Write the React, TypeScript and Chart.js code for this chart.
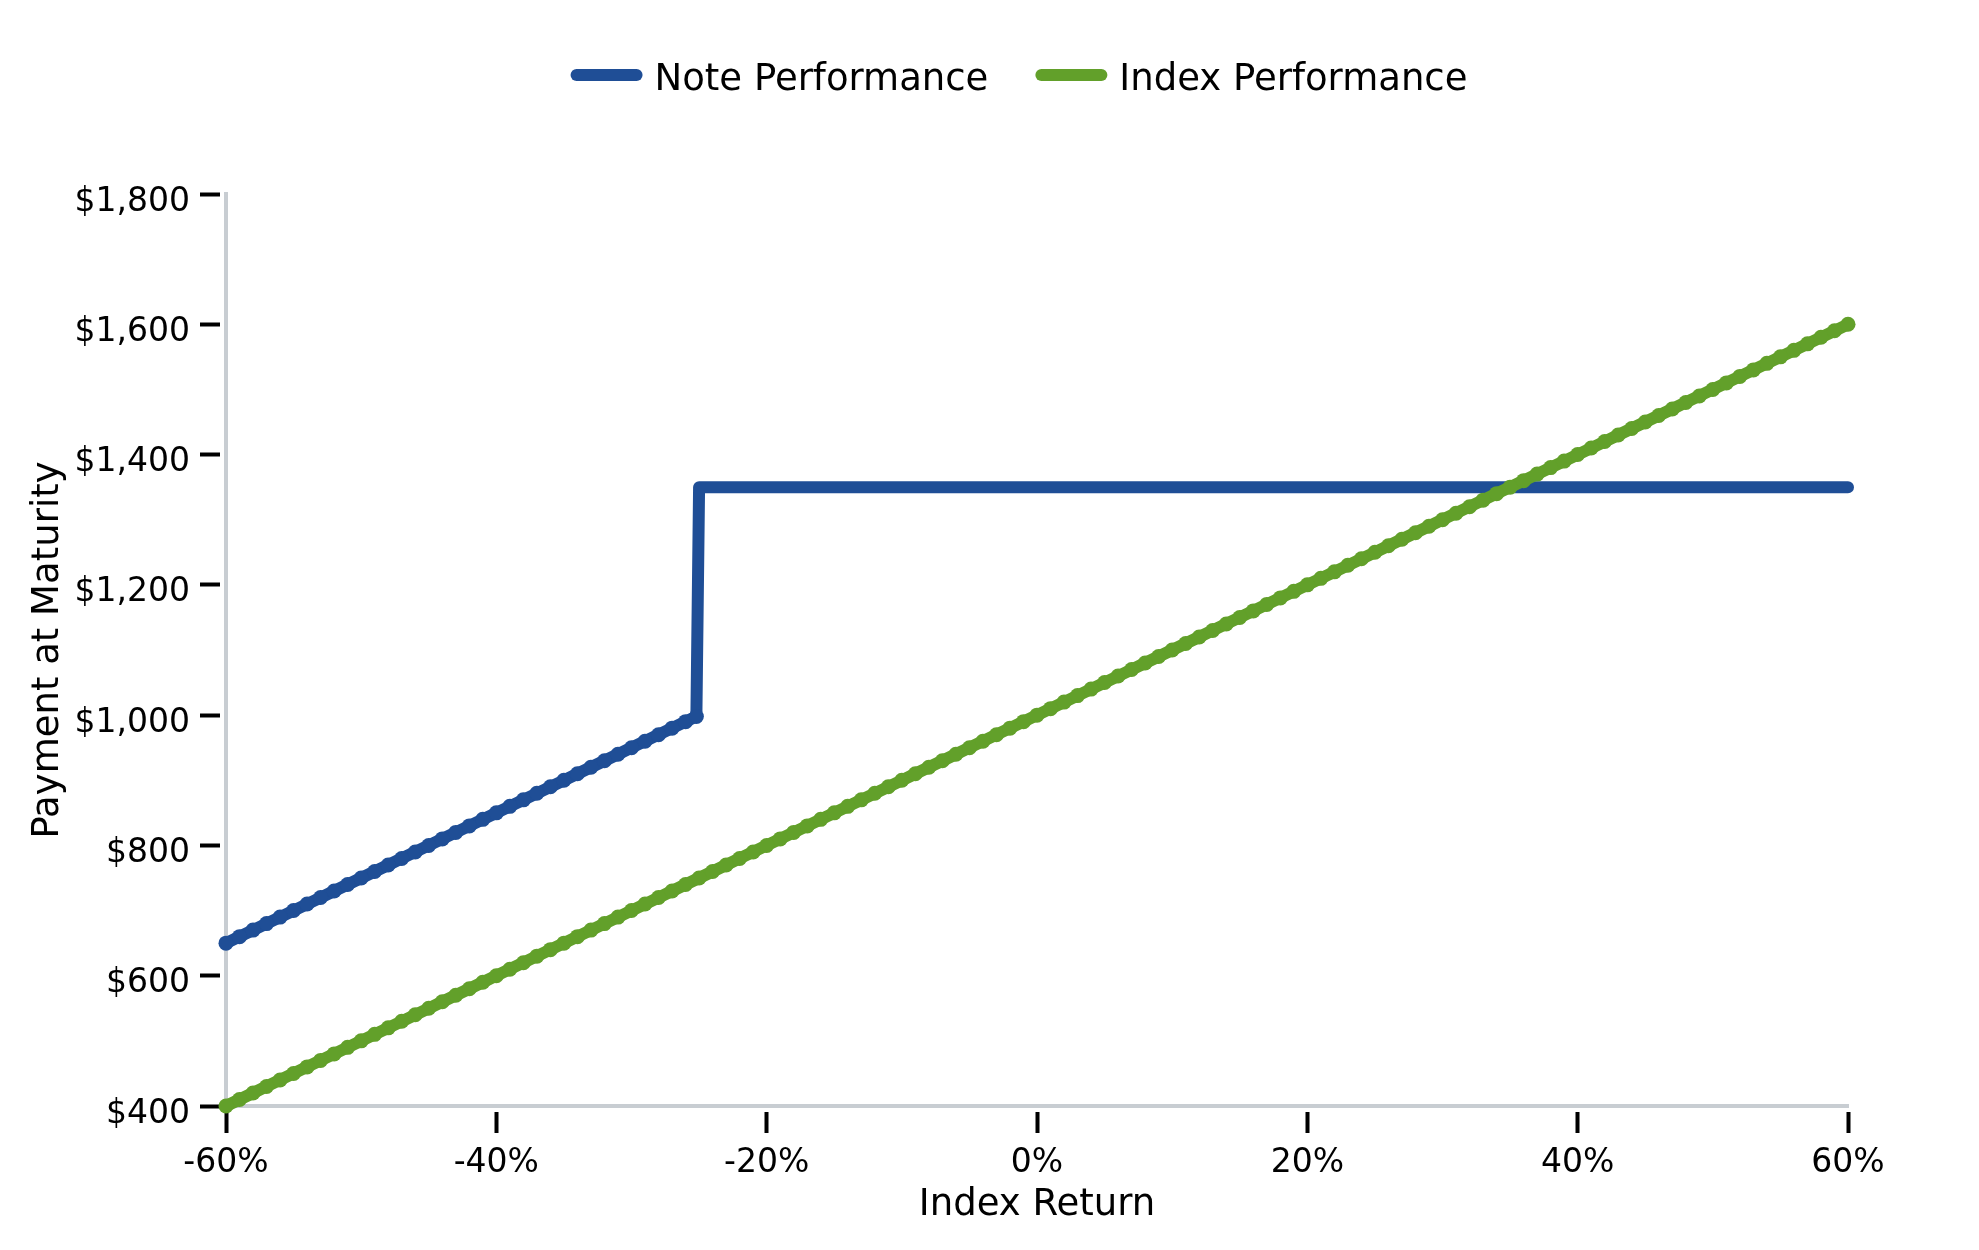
import React, { useEffect, useRef } from "react";
import { Chart, registerables } from "chart.js";

Chart.register(...registerables);

const indexReturns = [
  -60, -59, -58, -57, -56, -55, -54, -53, -52, -51, -50, -49, -48, -47, -46, -45, -44, -43, -42, -41,
  -40, -39, -38, -37, -36, -35, -34, -33, -32, -31, -30, -29, -28, -27, -26, -25, -24, -23, -22, -21,
  -20, -19, -18, -17, -16, -15, -14, -13, -12, -11, -10, -9, -8, -7, -6, -5, -4, -3, -2, -1,
  0, 1, 2, 3, 4, 5, 6, 7, 8, 9, 10, 11, 12, 13, 14, 15, 16, 17, 18, 19,
  20, 21, 22, 23, 24, 25, 26, 27, 28, 29, 30, 31, 32, 33, 34, 35, 36, 37, 38, 39,
  40, 41, 42, 43, 44, 45, 46, 47, 48, 49, 50, 51, 52, 53, 54, 55, 56, 57, 58, 59, 60,
];

const indexPerformance = [
  400, 410, 420, 430, 440, 450, 460, 470, 480, 490, 500, 510, 520, 530, 540, 550, 560, 570, 580, 590,
  600, 610, 620, 630, 640, 650, 660, 670, 680, 690, 700, 710, 720, 730, 740, 750, 760, 770, 780, 790,
  800, 810, 820, 830, 840, 850, 860, 870, 880, 890, 900, 910, 920, 930, 940, 950, 960, 970, 980, 990,
  1000, 1010, 1020, 1030, 1040, 1050, 1060, 1070, 1080, 1090, 1100, 1110, 1120, 1130, 1140, 1150, 1160, 1170, 1180, 1190,
  1200, 1210, 1220, 1230, 1240, 1250, 1260, 1270, 1280, 1290, 1300, 1310, 1320, 1330, 1340, 1350, 1360, 1370, 1380, 1390,
  1400, 1410, 1420, 1430, 1440, 1450, 1460, 1470, 1480, 1490, 1500, 1510, 1520, 1530, 1540, 1550, 1560, 1570, 1580, 1590, 1600,
];

const noteReturns = [
  -60, -59, -58, -57, -56, -55, -54, -53, -52, -51, -50, -49, -48, -47, -46, -45, -44, -43, -42, -41,
  -40, -39, -38, -37, -36, -35, -34, -33, -32, -31, -30, -29, -28, -27, -26, -25.2, -25, 60,
];

const notePerformance = [
  650, 660, 670, 680, 690, 700, 710, 720, 730, 740, 750, 760, 770, 780, 790, 800, 810, 820, 830, 840,
  850, 860, 870, 880, 890, 900, 910, 920, 930, 940, 950, 960, 970, 980, 990, 998, 1350, 1350,
];

const seriesLabels = ["Note Performance", "Index Performance"];
const seriesColors = ["#1f4e96", "#62a02a"];
const xAxisTitle = "Index Return";
const yAxisTitle = "Payment at Maturity";

const FONT = '"DejaVu Sans", sans-serif';

const lineLegend = {
  id: "lineLegend",
  afterDraw(chart: any) {
    const ctx = chart.ctx;
    ctx.save();
    ctx.font = `37px ${FONT}`;
    const items = chart.data.datasets.map((ds: any) => ({
      label: ds.label,
      color: ds.borderColor,
      w: ctx.measureText(ds.label).width,
    }));
    const boxW = 72;
    const boxH = 12;
    const gap = 12;
    const itemGap = 47;
    const total =
      items.reduce((s: number, it: any) => s + boxW + gap + it.w, 0) + itemGap * (items.length - 1);
    let x = 1019 - total / 2;
    const cy = 75;
    for (const it of items) {
      ctx.fillStyle = it.color;
      ctx.beginPath();
      ctx.roundRect(x, cy - boxH / 2, boxW, boxH, boxH / 2);
      ctx.fill();
      ctx.fillStyle = "#000";
      ctx.textAlign = "left";
      ctx.textBaseline = "alphabetic";
      ctx.fillText(it.label, x + boxW + gap, 90);
      x += boxW + gap + it.w + itemGap;
    }
    ctx.restore();
  },
};

export default function App() {
  const canvasRef = useRef<HTMLCanvasElement | null>(null);

  useEffect(() => {
    const canvas = canvasRef.current;
    if (!canvas) return;

    const noteData = noteReturns.map((x, i) => ({ x, y: notePerformance[i] }));
    const indexData = indexReturns.map((x, i) => ({ x, y: indexPerformance[i] }));

    const tickFont = { family: FONT, size: 33 };
    const titleFont = { family: FONT, size: 37 };

    const chart = new Chart(canvas, {
      type: "line",
      data: {
        datasets: [
          {
            label: seriesLabels[0],
            data: noteData,
            borderColor: seriesColors[0],
            backgroundColor: seriesColors[0],
            pointBackgroundColor: seriesColors[0],
            borderWidth: 12,
            pointBorderWidth: 0,
            pointRadius: (c: any) => (c.raw && c.raw.y < 1300 ? 7.5 : 0),
            tension: 0,
            clip: false as any,
            order: 1,
          },
          {
            label: seriesLabels[1],
            data: indexData,
            borderColor: seriesColors[1],
            backgroundColor: seriesColors[1],
            pointBackgroundColor: seriesColors[1],
            borderWidth: 12,
            pointBorderWidth: 0,
            pointRadius: 7.5,
            tension: 0,
            clip: false as any,
            order: 0,
          },
        ],
      },
      options: {
        animation: false,
        responsive: false,
        devicePixelRatio: 1,
        events: [],
        layout: { padding: { top: 194, right: 131, left: 0, bottom: 22 } },
        elements: {
          line: { borderCapStyle: "round", borderJoinStyle: "round" },
        },
        plugins: {
          legend: { display: false },
          tooltip: { enabled: false },
        },
        scales: {
          x: {
            type: "linear",
            min: -60,
            max: 60,
            afterFit: (s: any) => {
              s.height = 122;
            },
            ticks: {
              stepSize: 20,
              autoSkip: false,
              maxRotation: 0,
              padding: 11,
              color: "#000",
              font: tickFont,
              callback: (v: any) => `${v}%`,
            },
            grid: {
              drawOnChartArea: false,
              drawTicks: true,
              tickLength: 27,
              tickWidth: 4,
              tickColor: "#000",
              tickBorderDash: [0, 4, 21, 100],
            },
            border: { color: "#c8cdd2", width: 4 },
            title: {
              display: true,
              text: xAxisTitle,
              color: "#000",
              font: titleFont,
              padding: { top: 0, bottom: 0 },
            },
          },
          y: {
            type: "linear",
            min: 400,
            max: 1800,
            afterFit: (s: any) => {
              s.width = 226;
            },
            ticks: {
              stepSize: 200,
              autoSkip: false,
              padding: 10,
              labelOffset: 8,
              color: "#000",
              font: tickFont,
              callback: (v: any) => "$" + Number(v).toLocaleString("en-US"),
            },
            grid: {
              drawOnChartArea: false,
              drawTicks: true,
              tickLength: 26,
              tickWidth: 4,
              tickColor: "#000",
              tickBorderDash: [20, 100],
            },
            border: { color: "#c8cdd2", width: 4 },
            title: {
              display: true,
              text: yAxisTitle,
              color: "#000",
              font: titleFont,
              padding: { top: 26, bottom: 0 },
            },
          },
        },
      } as any,
      plugins: [lineLegend],
    });

    return () => {
      chart.destroy();
    };
  }, []);

  return (
    <div
      style={{
        position: "fixed",
        left: 0,
        top: 0,
        width: 1979,
        height: 1250,
        background: "#fff",
      }}
    >
      <canvas ref={canvasRef} width={1979} height={1250} style={{ display: "block" }} />
    </div>
  );
}
